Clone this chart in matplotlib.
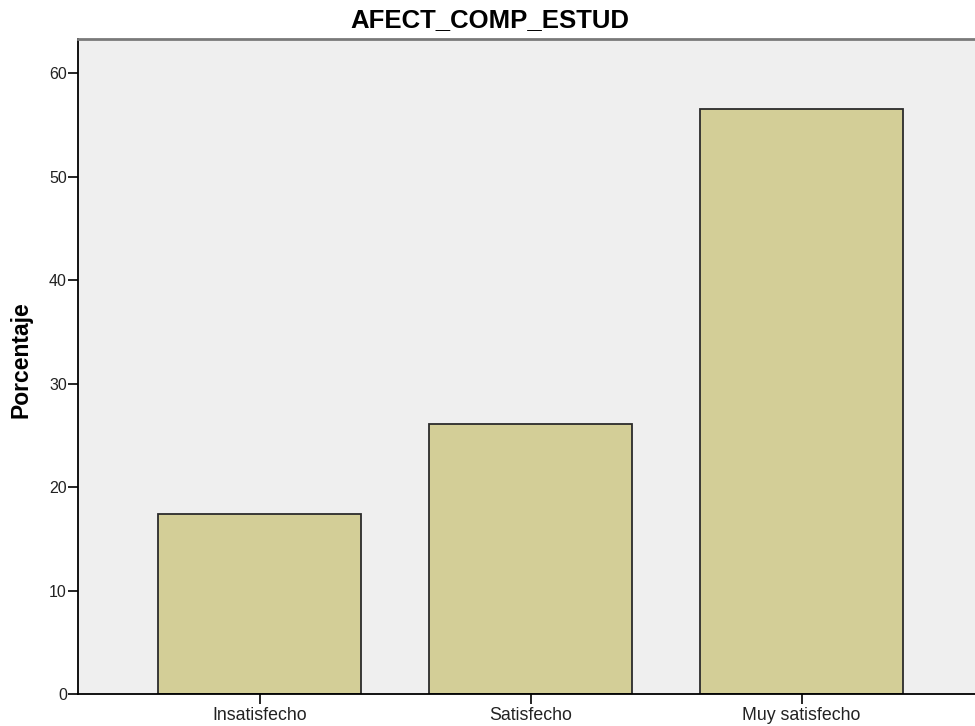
import matplotlib
matplotlib.use("Agg")
import matplotlib.pyplot as plt

# SPSS style frequency bar chart
categories = ["Insatisfecho", "Satisfecho", "Muy satisfecho"]
percentages = [17.4, 26.1, 56.5]
yticks = [0, 10, 20, 30, 40, 50, 60]

plt.rcParams['font.family'] = ['Liberation Sans', 'DejaVu Sans']

fig = plt.figure(figsize=(9.75, 7.26), dpi=100)
ax = fig.add_axes([78/975, 32/726, 1 - 78/975, (694-39)/726])
ax.set_facecolor('#efefef')

x = range(len(categories))
ax.bar(x, percentages, width=0.75, color='#d3ce97', edgecolor='#2b2b2b', linewidth=1.3)

ax.set_xlim(-0.67, 2.64)
ax.set_ylim(0, 63.3)
ax.set_xticks(list(x))
ax.set_xticklabels(categories, fontsize=12.8, color='#222222')
ax.set_yticks(yticks)
ax.tick_params(axis='y', labelsize=11.5, labelcolor='#222222', length=7, width=1.2,
               direction='out', pad=1)
ax.tick_params(axis='x', length=7, width=1.2, direction='out', pad=2)

ax.spines['right'].set_visible(False)
ax.spines['top'].set_color('#7a7a7a')
ax.spines['top'].set_linewidth(2)
ax.spines['left'].set_linewidth(1.3)
ax.spines['bottom'].set_linewidth(1.3)

fig.text(0.502, 0.972, "AFECT_COMP_ESTUD", ha='center', va='center',
         fontsize=18.5, fontweight='bold')
fig.text(0.022, 0.505, "Porcentaje", ha='center', va='center', rotation=90,
         fontsize=16.5, fontweight='bold')

fig.savefig("out.png", dpi=100)
